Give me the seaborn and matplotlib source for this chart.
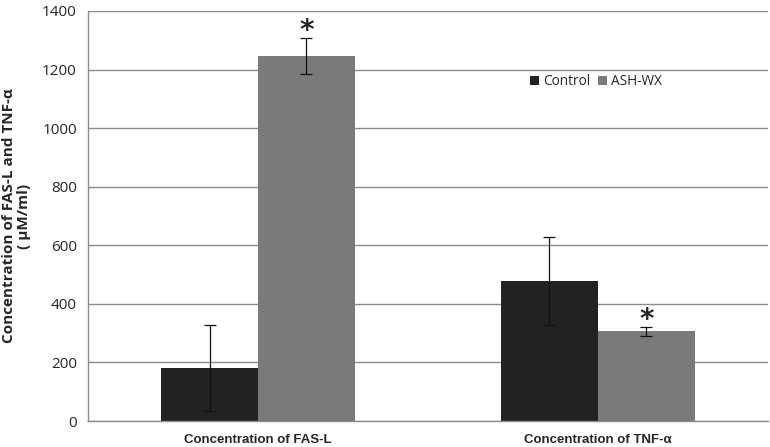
import pandas as pd
import seaborn as sns
import matplotlib.pyplot as plt

# Values
categories = ['Concentration of FAS-L', 'Concentration of TNF-α']
groups = ['Control', 'ASH-WX']
control_mean = [181, 478]
ashwx_mean = [1246, 306]
control_err = [148, 149]
ashwx_err = [62, 16]
significant = [False, False, True, True]  # control fas, control tnf, ash fas, ash tnf

df = pd.DataFrame({
    'category': categories * 2,
    'group': [groups[0]] * 2 + [groups[1]] * 2,
    'value': control_mean + ashwx_mean,
    'err': control_err + ashwx_err,
})

sns.set_style('white')
plt.rcParams['font.family'] = ['Open Sans', 'DejaVu Sans']

fig = plt.figure(figsize=(7.7, 4.47), dpi=100)
ax = fig.add_axes([0.1143, 0.058, 0.883, 0.9175])

sns.barplot(data=df, x='category', y='value', hue='group',
            palette=['#222222', '#7a7a7a'], width=0.57, saturation=1,
            errorbar=None, linewidth=0, ax=ax, zorder=2)

# error bars and asterisks on the bar centers
for bar, val, err, sig in zip(ax.patches, df['value'], df['err'], significant):
    xc = bar.get_x() + bar.get_width() / 2
    ax.errorbar(xc, val, yerr=err, color='#111111', lw=0.9, capsize=4,
                capthick=0.9, zorder=3)
    if sig:
        ax.text(xc, val + err - 25, '*', ha='center', va='bottom',
                fontsize=20, fontweight='bold', family='DejaVu Sans')

ax.set_ylim(0, 1400)
ax.set_yticks(range(0, 1401, 200))
ax.yaxis.grid(True, color='#8c8c8c', lw=1)
ax.set_axisbelow(True)
ax.set_xlim(-0.5, 1.5)

for side in ['top', 'right']:
    ax.spines[side].set_visible(False)
for side in ['left', 'bottom']:
    ax.spines[side].set_color('#8c8c8c')
    ax.spines[side].set_linewidth(1)

ax.tick_params(axis='y', length=5, color='#8c8c8c', labelsize=11, pad=3)
ax.tick_params(axis='x', length=0, pad=9)
for lab in ax.get_xticklabels():
    lab.set_fontfamily('Liberation Sans')
    lab.set_fontweight('bold')
    lab.set_fontsize(9.5)

ax.set_xlabel('')
ax.set_ylabel('Concentration of FAS-L and TNF-α\n( μM/ml)', fontsize=11,
              fontweight='bold', linespacing=1.1, labelpad=8)

ax.legend(loc='upper left', bbox_to_anchor=(0.632, 0.875), ncol=2, frameon=False,
          fontsize=9.8, handlelength=0.7, handleheight=0.7, handletextpad=0.3,
          columnspacing=0.5)

fig.savefig('out.png', dpi=100)
